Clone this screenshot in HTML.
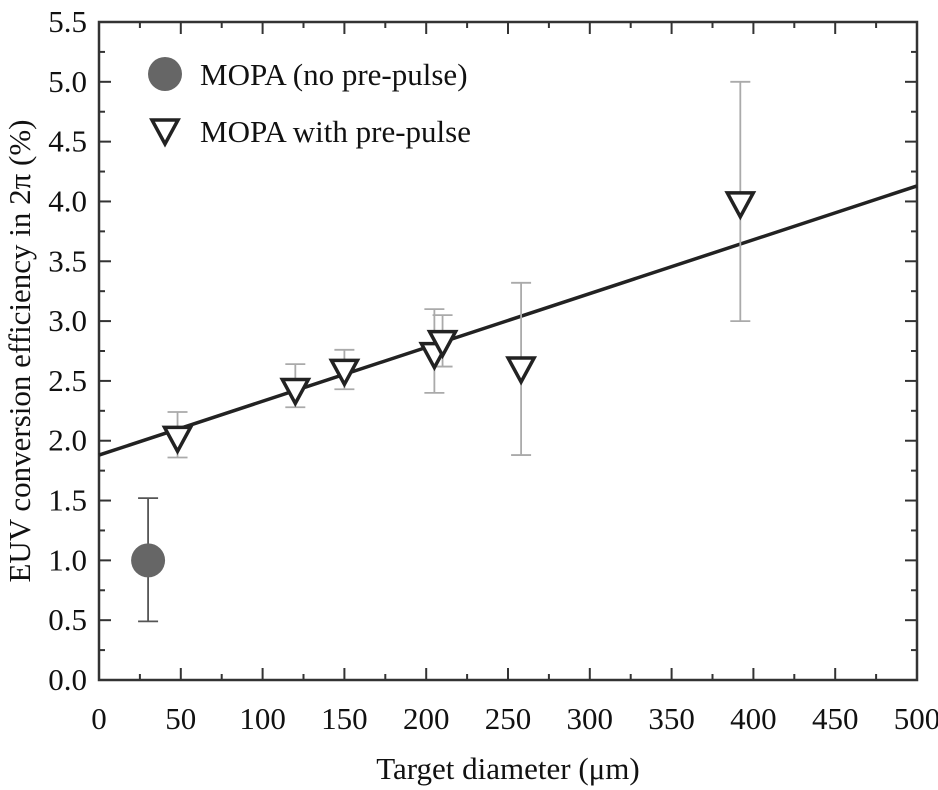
<!DOCTYPE html>
<html><head><meta charset="utf-8"><style>body{margin:0;background:#fff}svg{display:block}</style></head>
<body>
<svg id="chart" width="938" height="790" xmlns="http://www.w3.org/2000/svg" font-family="Liberation Serif, serif"></svg>
<script>
const xTicks=[0,50,100,150,200,250,300,350,400,450,500];
const yTicks=[0.0,0.5,1.0,1.5,2.0,2.5,3.0,3.5,4.0,4.5,5.0,5.5];
const circX=[30];const circY=[1.0];const circLo=[0.49];const circHi=[1.52];
const triX=[48,120,150,205,210,258,392];
const triY=[2.02,2.42,2.58,2.72,2.82,2.6,3.98];
const triLo=[1.86,2.28,2.43,2.4,2.62,1.88,3.0];
const triHi=[2.24,2.64,2.76,3.1,3.05,3.32,5.0];
const fitX=[0,500];const fitY=[1.88,4.13];
const L=99,R=917,T=22,B=680;
const sx=v=>L+(v/500)*(R-L);
const sy=v=>B-(v/5.5)*(B-T);
const ns='http://www.w3.org/2000/svg';
const svg=document.getElementById('chart');
function mk(tag,attrs,parent){const e=document.createElementNS(ns,tag);for(const k in attrs)e.setAttribute(k,attrs[k]);(parent||svg).appendChild(e);return e;}
const g=mk('g',{});


xTicks.forEach((v,i)=>{const x=sx(v);
 if(i>0&&i<xTicks.length-1){mk('line',{x1:x,x2:x,y1:B,y2:B-12,stroke:'#333','stroke-width':2},g);mk('line',{x1:x,x2:x,y1:T,y2:T+12,stroke:'#333','stroke-width':2},g);}
 const t=mk('text',{x:x,y:729,'text-anchor':'middle','font-size':31,fill:'#111'});t.textContent=v;
 
 
 if(i<xTicks.length-1){const xm=sx(v+25);mk('line',{x1:xm,x2:xm,y1:B,y2:B-6,stroke:'#333','stroke-width':2},g);mk('line',{x1:xm,x2:xm,y1:T,y2:T+6,stroke:'#333','stroke-width':2},g);}
});
yTicks.forEach((v,i)=>{const y=sy(v);
 if(i>0&&i<yTicks.length-1){mk('line',{x1:L,x2:L+12,y1:y,y2:y,stroke:'#333','stroke-width':2},g);mk('line',{x1:R,x2:R-12,y1:y,y2:y,stroke:'#333','stroke-width':2},g);}
 const t=mk('text',{x:87,y:y+10,'text-anchor':'end','font-size':31,fill:'#111'});t.textContent=v.toFixed(1);
 
 
 if(i<yTicks.length-1){const ym=sy(v+0.25);mk('line',{x1:L,x2:L+6,y1:ym,y2:ym,stroke:'#333','stroke-width':2},g);mk('line',{x1:R,x2:R-6,y1:ym,y2:ym,stroke:'#333','stroke-width':2},g);}
});
const fr=mk('rect',{x:L,y:T,width:R-L,height:B-T,fill:'none',stroke:'#333','stroke-width':2.5},g);


const fl=mk('line',{x1:sx(fitX[0]),y1:sy(fitY[0]),x2:sx(fitX[1]),y2:sy(fitY[1]),stroke:'#222','stroke-width':3.5},g);


function errbar(x,lo,hi,col){const X=sx(x);
 mk('line',{x1:X,x2:X,y1:sy(lo),y2:sy(hi),stroke:col,'stroke-width':1.8},g);
 mk('line',{x1:X-10,x2:X+10,y1:sy(lo),y2:sy(lo),stroke:col,'stroke-width':1.8},g);
 mk('line',{x1:X-10,x2:X+10,y1:sy(hi),y2:sy(hi),stroke:col,'stroke-width':1.8},g);}
triX.forEach((x,i)=>errbar(x,triLo[i],triHi[i],'#aaa'));
circX.forEach((x,i)=>errbar(x,circLo[i],circHi[i],'#555'));
function tri(cx,cy,p){return mk('polygon',{points:`${cx-13},${cy-11} ${cx+13},${cy-11} ${cx},${cy+13}`,fill:'#fff',stroke:'#222','stroke-width':3.5},p||g);}
triX.forEach((x,i)=>{const t=tri(sx(x),sy(triY[i]));
 
 });
circX.forEach((x,i)=>{const c=mk('circle',{cx:sx(x),cy:sy(circY[i]),r:17,fill:'#666'},g);
 
 });
const lg=mk('g',{});


mk('circle',{cx:165,cy:74,r:17,fill:'#666'},lg);
let t1=mk('text',{x:200,y:85,'font-size':31,fill:'#111'},lg);t1.textContent='MOPA (no pre-pulse)';
tri(165,131,lg);
let t2=mk('text',{x:200,y:142,'font-size':31,fill:'#111'},lg);t2.textContent='MOPA  with pre-pulse';
t2.setAttribute('xml:space','preserve');
const xl=mk('text',{x:508,y:779,'text-anchor':'middle','font-size':31,fill:'#111'});xl.textContent='Target diameter (μm)';


const yl=mk('text',{x:0,y:0,'text-anchor':'middle','font-size':31,fill:'#111',transform:'translate(30,351) rotate(-90)'});yl.textContent='EUV conversion efficiency in 2π (%)';


</script>
</body></html>
